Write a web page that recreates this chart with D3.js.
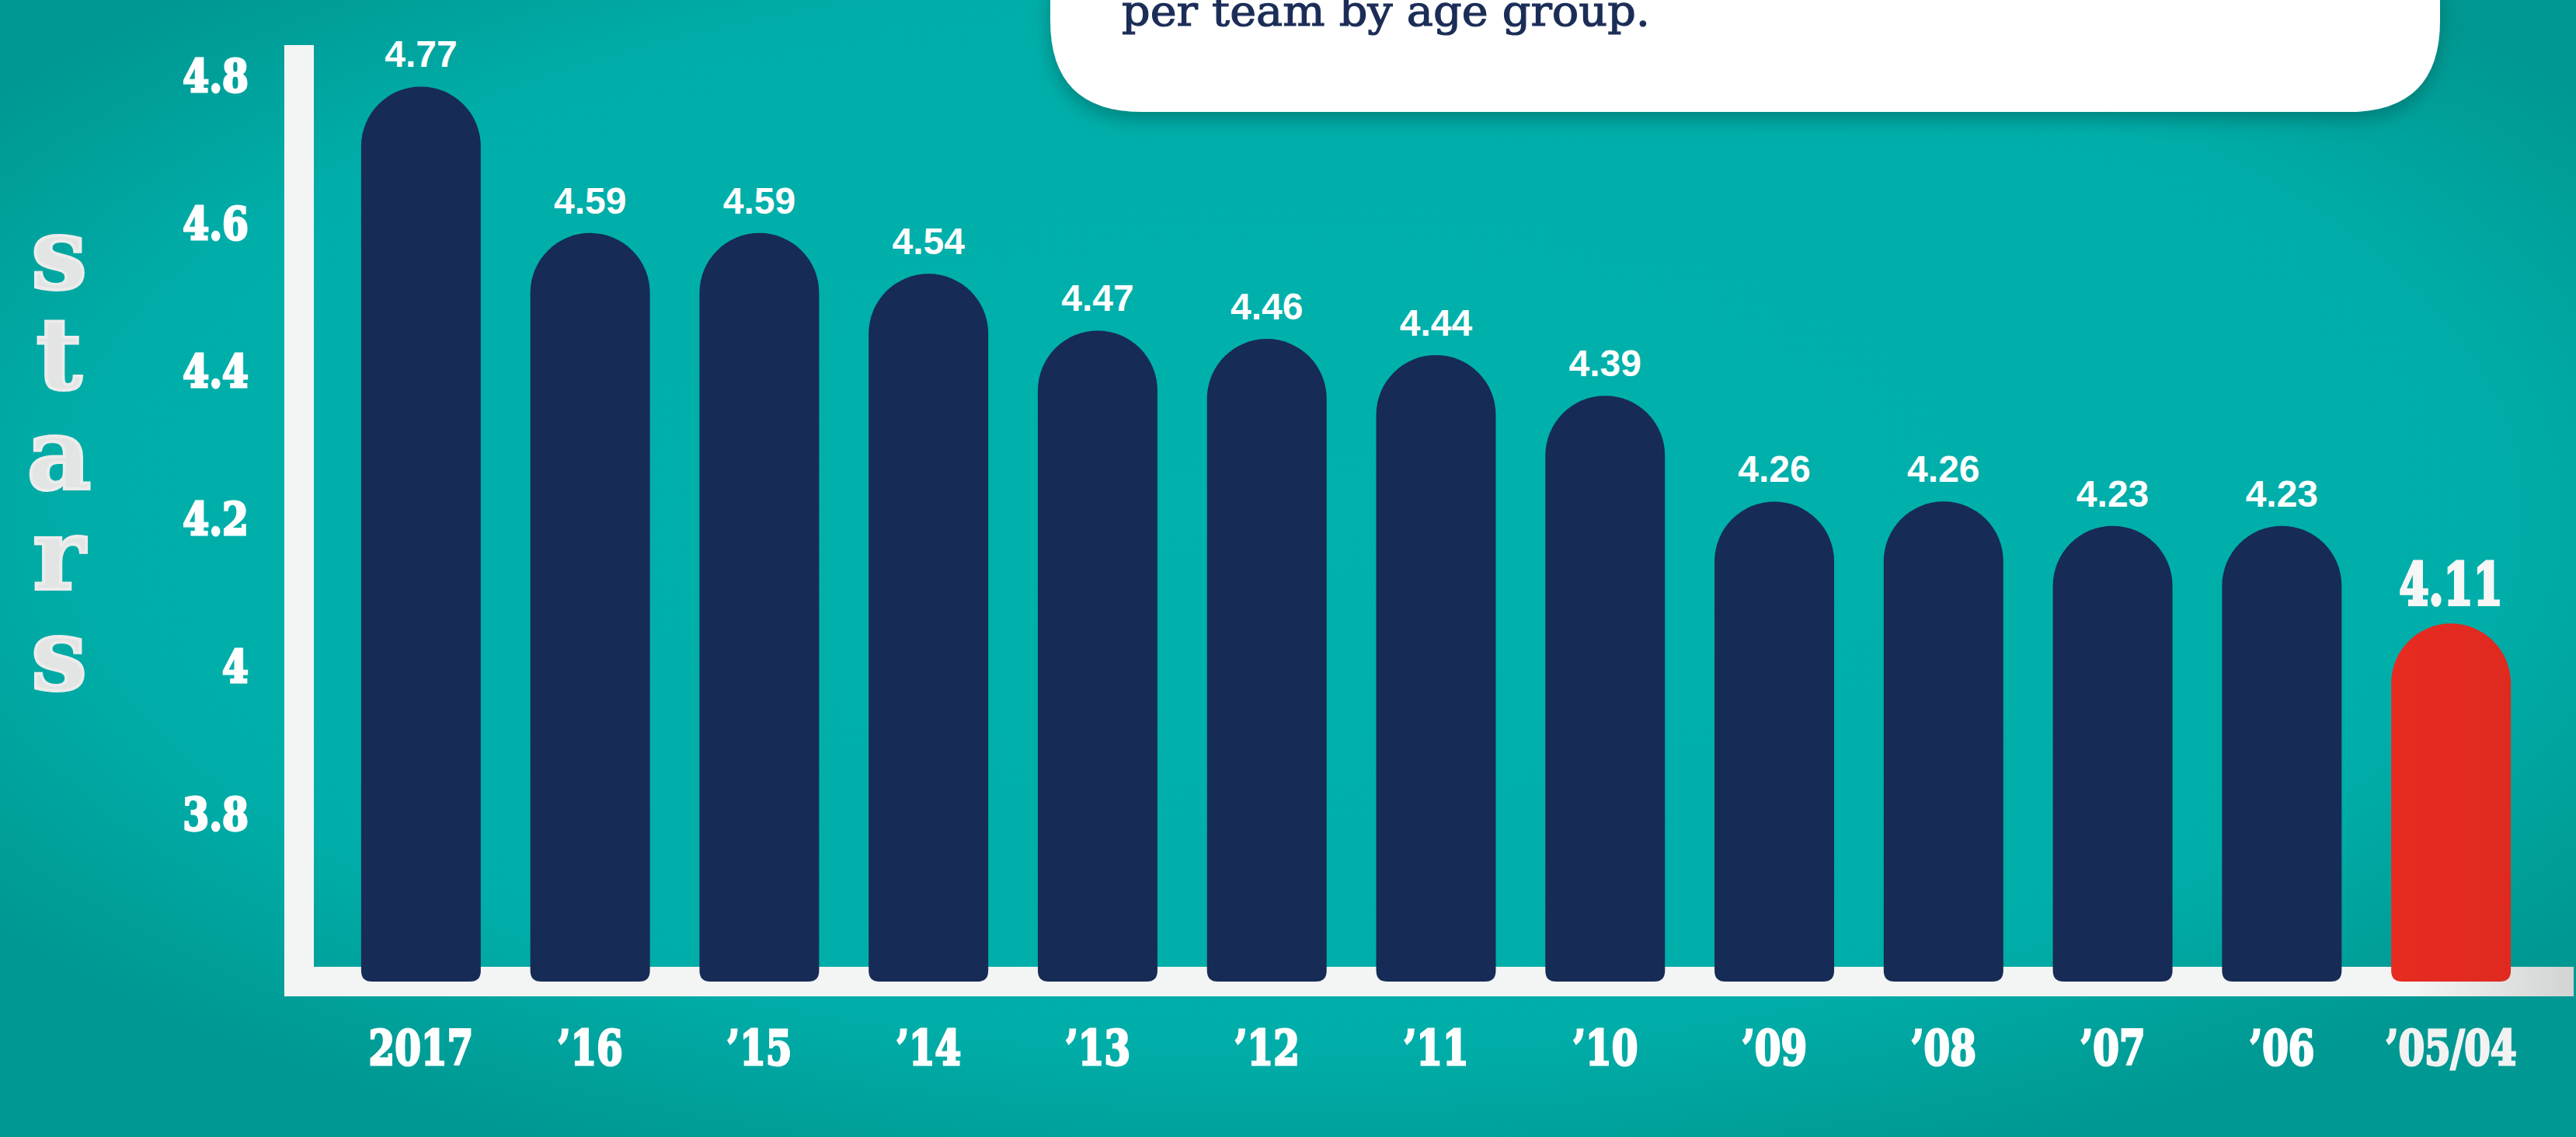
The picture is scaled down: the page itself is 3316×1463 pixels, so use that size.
<!DOCTYPE html>
<html>
<head>
<meta charset="utf-8">
<script src="https://cdn.jsdelivr.net/npm/d3@7"></script>
<style>
  html, body { margin: 0; padding: 0; background: #00aea9; overflow: hidden; }
  svg { display: block; }
</style>
</head>
<body>
<svg id="chart" width="3316" height="1463"></svg>
<script>
// ---------- data ----------
const categories = ["2017", "’16", "’15", "’14", "’13", "’12", "’11", "’10", "’09", "’08", "’07", "’06", "’05/04"];
const values = [4.77, 4.59, 4.59, 4.54, 4.47, 4.46, 4.44, 4.39, 4.26, 4.26, 4.23, 4.23, 4.11];
const highlightCategory = "’05/04";
const tickValues = [3.8, 4.0, 4.2, 4.4, 4.6, 4.8];
const tickLabels = ["3.8", "4", "4.2", "4.4", "4.6", "4.8"];
const axisTitle = "stars";
const boxText = "per team by age group.";

// ---------- setup ----------
const W = 3316, H = 1463;
const svg = d3.select("#chart");
const defs = svg.append("defs");

const bg = defs.append("radialGradient").attr("id", "bg")
  .attr("cx", "0.5").attr("cy", "0.45").attr("r", "0.62");
bg.append("stop").attr("offset", "0").attr("stop-color", "#00b1ac");
bg.append("stop").attr("offset", "0.75").attr("stop-color", "#00aea9");
bg.append("stop").attr("offset", "1").attr("stop-color", "#009892");

const band = defs.append("linearGradient").attr("id", "band")
  .attr("gradientUnits", "userSpaceOnUse").attr("x1", 366).attr("x2", 3313).attr("y1", 0).attr("y2", 0);
band.append("stop").attr("offset", "0").attr("stop-color", "#f3f5f4");
band.append("stop").attr("offset", "0.93").attr("stop-color", "#f3f5f4");
band.append("stop").attr("offset", "1").attr("stop-color", "#d2d3d3");

const starsGrad = defs.append("linearGradient").attr("id", "starsGrad")
  .attr("x1", "0").attr("x2", "1").attr("y1", "0").attr("y2", "0");
starsGrad.append("stop").attr("offset", "0").attr("stop-color", "#e3e4e4");
starsGrad.append("stop").attr("offset", "1").attr("stop-color", "#f1f1f1");

const redGrad = defs.append("linearGradient").attr("id", "redGrad")
  .attr("x1", "0").attr("x2", "1").attr("y1", "0").attr("y2", "0");
redGrad.append("stop").attr("offset", "0").attr("stop-color", "#e72b21");
redGrad.append("stop").attr("offset", "1").attr("stop-color", "#df2a20");

const shadow = defs.append("filter").attr("id", "boxShadow")
  .attr("x", "-10%").attr("y", "-50%").attr("width", "120%").attr("height", "200%");
shadow.append("feDropShadow").attr("dx", 0).attr("dy", 10).attr("stdDeviation", 12)
  .attr("flood-color", "#005e5a").attr("flood-opacity", 0.55);

svg.append("rect").attr("width", W).attr("height", H).attr("fill", "url(#bg)");

// ---------- scales ----------
const baseY = 1263;
const x = d3.scaleBand().domain(categories).range([433, 3264]).paddingInner(0.293).paddingOuter(0.1465);
const yBar = d3.scaleLinear().domain([3.67, 4.8]).range([baseY, 80]);
const yTick = d3.scaleLinear().domain([3.8, 4.8]).range([1047, 97]);

const slab = "'DejaVu Serif', serif";

// ---------- white text box at top ----------
const boxG = svg.append("g");
const bx0 = 1352, bx1 = 3141, by1 = 144, rad = 118;
boxG.append("path")
  .attr("d", `M${bx0},-20 L${bx0},${by1 - rad} Q${bx0},${by1} ${bx0 + rad},${by1} L${bx1 - rad},${by1} Q${bx1},${by1} ${bx1},${by1 - rad} L${bx1},-20 Z`)
  .attr("fill", "#ffffff").attr("filter", "url(#boxShadow)");
boxG.append("text")
  .attr("x", 1444).attr("y", 33)
  .attr("textLength", 680).attr("lengthAdjust", "spacingAndGlyphs")
  .attr("font-family", slab).attr("font-size", 54)
  .attr("fill", "#1b2d57").attr("stroke", "#1b2d57").attr("stroke-width", 1.2)
  .text(boxText);

// ---------- axis frame ----------
svg.append("rect").attr("x", 366).attr("y", 58).attr("width", 38).attr("height", 1282 - 58).attr("fill", "#f3f5f4");
svg.append("rect").attr("x", 366).attr("y", 1244).attr("width", 3313 - 366).attr("height", 38).attr("fill", "url(#band)");

// ---------- bars ----------
const br = 14;
function barPath(d, i) {
  const x0 = x(categories[i]);
  const w = x.bandwidth();
  const r = w / 2;
  const top = yBar(d);
  const b = baseY;
  return `M${x0},${top + r} A${r},${r} 0 0 1 ${x0 + w},${top + r} L${x0 + w},${b - br} Q${x0 + w},${b} ${x0 + w - br},${b} L${x0 + br},${b} Q${x0},${b} ${x0},${b - br} Z`;
}
svg.append("g").selectAll("path").data(values).join("path")
  .attr("d", barPath)
  .attr("fill", (d, i) => categories[i] === highlightCategory ? "url(#redGrad)" : "#162b55");

// ---------- value labels ----------
svg.append("g").selectAll("text").data(values).join("text")
  .attr("transform", (d, i) => {
    const cx = x(categories[i]) + x.bandwidth() / 2;
    const isHi = categories[i] === highlightCategory;
    const ty = yBar(d) - (isHi ? 24 : 25);
    return `translate(${cx},${ty}) scale(${isHi ? 0.74 : 1},1)`;
  })
  .attr("text-anchor", "middle")
  .attr("font-family", (d, i) => categories[i] === highlightCategory ? slab : "'Liberation Sans', Arial, sans-serif")
  .attr("font-weight", "bold")
  .attr("font-size", (d, i) => categories[i] === highlightCategory ? 74 : 48)
  .attr("fill", (d, i) => categories[i] === highlightCategory ? "#f6f6f6" : "#ffffff")
  .attr("stroke", (d, i) => categories[i] === highlightCategory ? "#f6f6f6" : "none")
  .attr("stroke-width", 4)
  .text(d => d3.format(".2f")(d));

// ---------- y axis ticks ----------
const yAxis = d3.axisLeft(yTick).tickValues(tickValues)
  .tickFormat((d, i) => tickLabels[i]).tickSize(0).tickPadding(0);
const yAxisG = svg.append("g").attr("transform", "translate(320,0)").call(yAxis);
yAxisG.select(".domain").remove();
yAxisG.selectAll("text")
  .attr("x", 0).attr("dy", "0.36em")
  .attr("transform", "scale(0.84,1)")
  .attr("font-family", slab).attr("font-weight", "bold")
  .attr("font-size", 58).attr("fill", "#ffffff")
  .attr("stroke", "#ffffff").attr("stroke-width", 3)
  .attr("text-anchor", "end");

// ---------- x axis labels ----------
const xAxis = d3.axisBottom(x).tickSize(0).tickPadding(0);
const xAxisG = svg.append("g").attr("transform", "translate(0,1370)").call(xAxis);
xAxisG.select(".domain").remove();
xAxisG.selectAll("text")
  .attr("y", 0).attr("dy", 0)
  .attr("transform", "scale(0.78,1)")
  .attr("font-family", slab).attr("font-weight", "bold")
  .attr("font-size", 62)
  .attr("fill", d => d === highlightCategory ? "#f2f2f2" : "#ffffff")
  .attr("stroke", d => d === highlightCategory ? "#f2f2f2" : "#ffffff")
  .attr("stroke-width", 3);

// ---------- vertical axis title: one upright vertical text ----------
svg.append("text")
  .attr("x", 76).attr("y", 251)
  .style("writing-mode", "vertical-rl")
  .style("text-orientation", "upright")
  .style("letter-spacing", "-21px")
  .attr("font-family", slab).attr("font-weight", "bold")
  .attr("font-size", 128).attr("fill", "url(#starsGrad)")
  .attr("stroke", "#ececec").attr("stroke-width", 4)
  .text(axisTitle);
</script>
</body>
</html>
